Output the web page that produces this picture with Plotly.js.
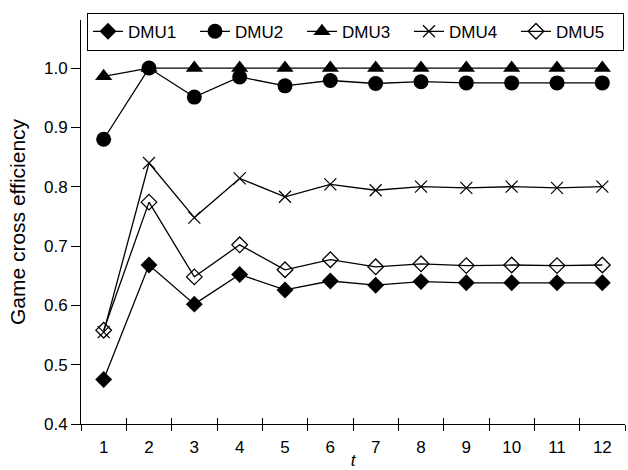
<!DOCTYPE html>
<html>
<head>
<meta charset="utf-8">
<script src="https://cdn.plot.ly/plotly-3.0.1.min.js"></script>
<style>html,body{margin:0;padding:0;background:#fff;}#chart{width:628px;height:470px;}</style>
</head>
<body>
<div id="chart"></div>
<script>
const t = [1, 2, 3, 4, 5, 6, 7, 8, 9, 10, 11, 12];
const dmu1 = [0.475, 0.668, 0.602, 0.652, 0.626, 0.641, 0.634, 0.640, 0.638, 0.638, 0.638, 0.638];
const dmu2 = [0.880, 1.000, 0.951, 0.985, 0.970, 0.979, 0.974, 0.977, 0.975, 0.975, 0.975, 0.975];
const dmu3 = [0.986, 1.000, 1.000, 1.000, 1.000, 1.000, 1.000, 1.000, 1.000, 1.000, 1.000, 1.000];
const dmu4 = [0.555, 0.840, 0.748, 0.814, 0.783, 0.804, 0.794, 0.800, 0.798, 0.800, 0.798, 0.800];
const dmu5 = [0.558, 0.774, 0.648, 0.702, 0.660, 0.677, 0.665, 0.670, 0.667, 0.668, 0.667, 0.668];
const names = ['DMU1', 'DMU2', 'DMU3', 'DMU4', 'DMU5'];
const yTicks = [0.4, 0.5, 0.6, 0.7, 0.8, 0.9, 1.0];

const FONT = 'Liberation Sans, Arial, Helvetica, sans-serif';
const lineStyle = {color: '#000', width: 1.3};
function tr(name, y, marker, xax) {
  return {x: t, y: y, name: name, type: 'scatter', mode: 'lines+markers', xaxis: xax || 'x',
          line: lineStyle, marker: marker, cliponaxis: false};
}
const data = [
  tr(names[0], dmu1, {symbol: 'diamond', size: 13, color: '#000'}),
  tr(names[1], dmu2, {symbol: 'circle', size: 15, color: '#000'}),
  tr(names[2], dmu3, {symbol: 'triangle-up', size: 15, color: '#000'}, 'x2'),
  tr(names[3], dmu4, {symbol: 'x-thin', size: 12, color: '#000', line: {color: '#000', width: 1.2}}),
  tr(names[4], dmu5, {symbol: 'diamond-open', size: 12, color: '#000', line: {color: '#000', width: 1.3}})
];

const layout = {
  width: 628, height: 470,
  margin: {l: 81, r: 3, t: 20, b: 46, pad: 0},
  paper_bgcolor: '#fff', plot_bgcolor: '#fff',
  font: {family: FONT, size: 17, color: '#000'},
  showlegend: true,
  legend: {orientation: 'h', x: 0.011, xanchor: 'left', y: 1.018, yanchor: 'top',
           bordercolor: '#000', borderwidth: 1, bgcolor: '#fff',
           font: {family: FONT, size: 17, color: '#000'},
           entrywidth: 62, entrywidthmode: 'pixels', traceorder: 'normal'},
  xaxis: {range: [0.5, 12.5], tickmode: 'array', tickvals: t, ticktext: t.map(String),
          ticks: '', showline: true, linecolor: '#000', linewidth: 1, showgrid: false, zeroline: false,
          ticklabelstandoff: 8,
          minor: {tick0: 0.5, dtick: 1, ticks: 'outside', ticklen: 6, tickcolor: '#000', tickwidth: 1, showgrid: false},
          title: {text: 't', font: {family: FONT, size: 17, color: '#000', style: 'italic'}, standoff: 2},
          tickfont: {family: FONT, size: 17, color: '#000'}},
  xaxis2: {range: [0.5, 12.5], overlaying: 'x', anchor: 'y', side: 'bottom',
           tickmode: 'linear', tick0: 0.5, dtick: 1, ticks: 'inside', ticklen: 6, tickcolor: '#000', tickwidth: 1,
           showticklabels: false, showline: false, showgrid: false, zeroline: false},
  yaxis: {range: [0.4, 1.081], tickmode: 'array', tickvals: yTicks, ticktext: yTicks.map(v => v.toFixed(1)),
          ticks: 'outside', ticklen: 9, tickcolor: '#000', tickwidth: 1,
          showline: true, linecolor: '#000', linewidth: 1, showgrid: false, zeroline: false,
          title: {text: 'Game cross efficiency', font: {family: FONT, size: 21, color: '#000'}, standoff: 12},
          tickfont: {family: FONT, size: 17, color: '#000'}}
};
Plotly.newPlot('chart', data, layout, {displayModeBar: false, staticPlot: true});
</script>
</body>
</html>
